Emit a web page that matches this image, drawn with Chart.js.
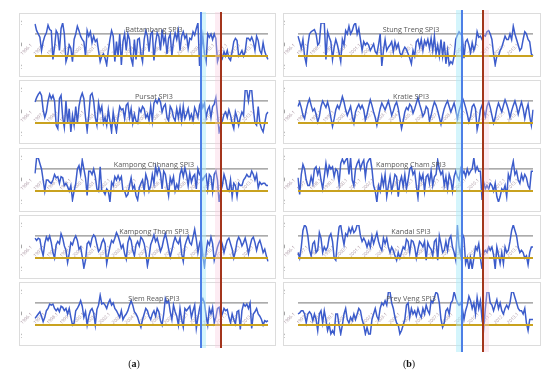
<!DOCTYPE html>
<html lang="en">
<head>
<meta charset="utf-8" />
<title>SPI3 time series</title>
<script src="https://cdn.jsdelivr.net/npm/chart.js"></script>
<style>
  body { margin: 0; background: #fff; width: 550px; height: 376px; position: relative; overflow: hidden; font-family: "Open Sans", sans-serif; }
  .panel { position: absolute; border: 1px solid #dcdcdc; background: #fff; box-sizing: border-box; }
  .panel canvas { position: absolute; left: 0; top: 0; }
  .ttl { position: absolute; font-size: 7.2px; color: #595959; white-space: nowrap; transform: translate(-50%, -50%); }
  .band { position: absolute; }
  .cap { position: absolute; font-family: "Liberation Serif", serif; font-size: 10px; color: #111; transform: translateX(-50%); }
</style>
</head>
<body>
<script>
    // time axis: 18 years, 8 samples per year
    const years = [1996, 1997, 1998, 1999, 2000, 2001, 2002, 2003, 2004, 2005, 2006, 2007, 2008, 2009, 2010, 2011, 2012, 2013];
    const stepsPerYear = 8;
    const categories = years.flatMap(y => Array.from({ length: stepsPerYear }, (_, k) => y + '.' + (k + 1)));

    const yTicks = [-2, 0, 2];
    const wetLine = 1;
    const dryLine = -1;

    const battambang = [
        1.9, 1.3, 1.0, 0.7, -0.5, 0.3, 0.8, 1.1, 1.8, 1.4, 1.3, -1.3,
        -0.2, 1.3, 1.0, -0.5, 1.5, 2.0, 1.0, -1.5, -1.0, 0.0, -0.3, -1.5,
        0.5, 1.0, 1.7, 1.3, 0.8, 0.5, 0.3, -1.0, 1.3, 0.8, 1.2, 0.2,
        0.8, 0.3, 0.5, -0.5, -1.5, -1.0, -0.8, -1.2, -1.8, -0.5, 0.5, 1.3,
        0.8, -1.5, 0.3, -1.0, 1.0, -1.8, 0.3, 1.0, -0.5, 1.0, 0.5, -1.2,
        -1.8, 0.5, -1.3, 0.5, 0.6, -0.8, -1.5, 0.5, 1.3, 0.8, -0.6, 1.0,
        1.2, -1.4, 0.2, 1.1, 0.8, -0.5, 1.4, 0.2, 0.8, -0.8, 0.6, 1.0,
        -1.0, 0.4, 1.1, 0.5, 1.3, -0.5, 0.8, 1.2, 0.6, 0.9, -0.3, 0.6,
        0.5, 1.2, 0.9, 1.5, 2.0, -1.9, -0.5, 0.8, -0.8, -1.5, 1.0, 0.7,
        1.0, 0.5, 1.0, 0.6, -1.5, -1.0, -0.8, -1.2, -0.6, -1.0, -0.5, -1.2,
        -1.4, -0.6, 0.3, 0.6, 0.4, -1.0, -0.8, -0.5, -1.0, -0.6, 0.6, 0.6,
        0.4, 0.7, 0.3, -0.5, 0.8, 0.4, -0.5, -0.8, 0.2, -0.6, -1.0, -1.3
    ];
    const pursat = [
        0.9, 1.3, 1.6, 1.8, 1.5, 0.2, -0.5, 0.0, 1.0, 1.6, 1.2, 1.5,
        1.0, -1.2, -1.5, 1.2, 1.5, -0.5, -1.4, 1.0, -1.0, 0.3, -1.8, -0.3,
        -1.2, 0.5, -1.0, 0.5, 1.3, 1.7, 1.2, -0.5, -1.7, -0.3, 1.5, 1.7,
        1.0, -0.5, -1.2, 0.8, 0.0, 0.5, -1.0, -0.5, -1.2, 0.2, -0.8, -1.8,
        0.0, -1.0, -1.8, -0.5, 0.5, 0.2, 0.3, -0.6, 0.6, 0.8, -0.5, 0.3,
        -1.0, -0.2, -0.8, -1.0, 0.3, 0.0, 0.5, 0.3, -0.5, -0.2, -0.8, 0.5,
        -0.8, 0.8, 1.1, 0.8, 1.2, 0.9, 0.0, 0.5, 0.7, -0.5, -0.8, 0.5,
        0.2, -0.5, -0.8, 0.3, -0.5, 0.4, -0.8, 0.5, -0.6, -0.2, 0.3, -0.6,
        -0.2, -0.8, 0.4, 0.0, -0.5, 0.6, 1.0, 0.4, 0.8, -0.5, 0.2, 0.5,
        -0.5, 0.5, 0.7, 1.3, -0.2, -1.8, -1.2, -0.8, -0.2, 0.0, -0.5, 0.2,
        -0.3, -1.0, -1.5, 0.0, -0.5, -1.2, -0.5, 0.0, -0.3, 2.0, 2.0, 1.0,
        2.0, 2.0, 0.3, -1.0, -1.2, 0.5, -1.0, -1.5, -1.8, -1.0, -0.2, 0.0
    ];
    const kampongChhnang = [
        0.6, 2.0, 2.0, 1.5, 1.0, 0.0, -1.0, 0.0, 0.0, -0.2, -0.3, 0.0,
        0.5, 0.2, 0.3, -0.3, 0.3, 0.2, -0.5, -0.3, -0.6, -1.0, -0.5, -1.8,
        -1.0, -0.3, 1.0, 1.3, 0.5, 1.8, 1.0, 0.2, -1.4, 0.8, 0.8, 0.5,
        1.0, 0.3, -0.8, -1.0, 1.2, -1.0, -1.0, -1.3, -0.8, -1.0, -2.0, -0.2,
        -0.5, 0.3, 0.0, 0.4, 0.0, 0.3, -1.0, -1.0, -1.5, -1.3, -0.5, 0.2,
        -0.8, -0.5, -1.4, -1.8, -0.7, -0.3, 0.0, -1.0, 0.5, 0.0, -1.0, -0.5,
        0.5, -0.3, 1.2, 0.5, 1.1, 0.6, -0.8, 0.8, 0.5, -0.5, -1.4, 0.2,
        -0.3, 0.3, -1.0, -0.4, -0.8, 0.5, 1.0, 0.3, 1.1, 0.5, -0.5, 0.6,
        -0.2, 0.3, 0.5, -0.8, 1.0, 0.5, 0.3, 0.0, 0.3, 0.5, -0.8, 0.5,
        0.3, -1.0, 0.5, 0.8, 0.0, -2.0, -1.0, -0.5, 0.5, 0.0, -0.8, -1.0,
        0.0, -1.5, -0.3, -0.5, -1.5, -0.3, -0.5, -0.5, 0.0, 0.2, 0.5, 0.3,
        0.3, 0.8, 0.5, 0.0, 0.5, -0.7, -0.2, -0.4, -0.3, -0.3, -0.5, -0.5
    ];
    const kampongThom = [
        0.8, 0.6, 0.8, 0.7, -0.2, -0.8, 0.3, 0.9, 0.6, 1.0, 0.4, -0.5,
        -1.0, 0.2, 0.5, 0.3, 1.2, 0.8, 0.1, -0.3, -1.4, -0.6, 0.4, 0.2,
        0.7, 1.0, 0.6, -0.2, 0.0, -0.9, -1.9, -1.2, 0.3, 0.5, 0.1, 0.8,
        1.1, 0.9, 0.2, -0.4, -0.2, 0.4, 0.7, 0.3, -1.5, -0.7, 0.0, 0.6,
        0.4, 0.8, 1.3, 1.0, 0.5, -0.1, 0.2, -0.6, -1.1, 0.4, 0.9, 0.6,
        -0.3, -0.8, 0.2, 0.5, 0.1, 0.9, 0.7, 0.3, -0.5, -1.7, -0.9, 0.2,
        0.6, 1.1, 0.5, 0.8, 0.2, -0.4, 0.0, 0.7, 1.2, 0.6, -0.2, -0.9,
        -0.3, 0.4, 0.9, 0.5, 0.3, 0.8, -0.6, -1.3, 0.1, 0.6, 1.0, 0.4,
        0.2, 0.9, 1.6, 0.7, -0.5, 0.3, 0.8, -0.8, -1.8, -0.4, 0.5, 0.2,
        0.9, 0.3, -1.2, -0.6, 0.0, 0.4, 0.7, 0.2, -0.5, 0.1, 0.6, 0.8,
        0.3, -0.2, -1.0, -0.4, 0.5, 0.9, 0.6, 0.1, 0.4, 0.8, 0.2, -0.6,
        0.1, 0.7, 0.9, 0.4, -0.3, 0.3, 0.6, 0.1, -0.5, -0.2, -0.8, -1.3
    ];
    const siemReap = [
        -0.4, -0.2, 0.0, 0.2, -0.2, -0.7, -0.3, 0.3, 0.5, 0.9, 0.8, 0.9,
        0.5, 0.3, 0.5, 0.2, 0.7, 0.6, 0.3, 0.5, 0.0, 0.5, -0.3, -1.0,
        -0.8, 0.3, 0.5, 0.8, 1.2, 0.7, -0.3, 0.2, -1.0, -0.2, 0.3, 0.5,
        0.1, -1.0, 0.4, 0.8, 1.7, 0.9, 1.0, 0.8, 0.5, 1.0, 1.3, 0.8,
        1.0, 0.5, 0.3, 0.0, -0.3, 0.3, -0.5, -0.2, 0.0, 0.3, 0.8, 1.2,
        0.8, 0.2, 0.0, -0.3, -0.8, -1.2, -0.5, 0.0, 0.5, 0.3, -0.2, -0.5,
        0.0, 0.3, -0.2, 0.5, 0.2, -0.6, -1.0, 0.0, 1.4, 1.0, 1.2, 0.2,
        -0.5, 0.8, 0.2, -0.2, -1.0, 0.5, -0.5, -1.2, 0.5, 0.3, 0.5, 0.7,
        -0.3, 0.3, 0.8, -1.3, -0.3, 0.5, 1.1, 1.4, 1.0, -0.2, -1.0, 0.5,
        0.0, 0.6, -0.8, -0.3, 0.5, 0.6, -0.3, 0.0, 0.5, 0.3, 0.4, -0.3,
        -0.8, 0.0, -0.5, -0.9, 0.2, 0.3, -1.4, 0.3, 0.9, 0.7, 0.9, 0.5,
        1.0, -1.3, 0.0, 0.2, 0.5, 0.0, -0.2, -0.5, -1.0, -0.6, -0.7, -0.6
    ];
    const stungTreng = [
        0.8, 0.3, -0.3, 0.5, -1.0, -1.7, 0.0, 1.0, 1.2, 1.3, 1.4, 1.0,
        0.0, 0.2, 2.0, 2.0, 2.0, -1.3, 1.2, 0.7, 0.3, -1.3, -0.2, 0.5,
        0.0, -0.7, -1.5, 0.5, 0.0, 1.3, 1.0, 1.7, 1.0, 1.3, 1.8, 2.0,
        1.0, 1.5, 0.5, -0.5, 0.3, 0.0, 0.2, 0.0, -0.5, -0.2, 0.1, -0.6,
        -0.8, 0.0, 1.0, -1.9, -0.5, 0.5, -0.5, -0.2, 0.0, 0.3, -0.6, 0.3,
        -0.3, 0.1, -0.7, -1.0, -0.5, -0.2, -0.4, -0.8, -1.2, -1.7, -0.5, -1.0,
        0.3, 0.5, -0.2, 0.5, -0.5, 0.4, 0.0, 0.5, -0.3, 0.6, -0.5, 0.8,
        -0.8, 0.0, -1.0, 0.5, -1.0, 0.3, -1.7, -0.5, -1.8, -1.5, -1.7, -1.0,
        0.5, 0.9, 1.2, 1.0, 0.8, -1.2, 0.3, 0.5, 0.0, -0.7, 0.2, -0.5,
        0.0, 1.2, 0.7, 0.8, 0.5, 0.9, 0.8, 1.2, 1.3, 1.0, 0.5, -0.8,
        -1.8, -1.0, -1.0, -0.5, -0.2, 0.3, 0.8, 0.5, 0.5, 1.0, 0.5, 1.7,
        1.0, 0.5, 0.0, -0.5, -0.3, 0.5, 1.2, 1.0, 0.5, 0.3, -0.8, -1.0
    ];
    const kratie = [
        0.5, 0.9, 0.4, -0.3, -0.6, 0.2, 0.8, 1.2, 0.6, 0.1, 0.3, -0.2,
        -0.9, -0.4, 0.5, 1.0, 0.7, 0.4, 0.9, 0.3, -0.5, -1.3, -0.6, 0.2,
        0.6, 0.3, 0.8, 1.4, 0.9, 0.2, -0.3, 0.1, 0.5, -0.4, -1.0, 0.0,
        0.4, 0.7, 0.3, 0.6, 0.2, -0.7, -0.2, 0.5, 1.1, 0.6, 0.0, -0.5,
        -1.2, -0.4, 0.3, 0.8, 0.5, 0.2, 0.6, 1.0, 0.4, -0.3, 0.1, 0.6,
        0.9, 0.3, -0.6, -1.5, -0.8, 0.0, 0.4, 0.2, 0.7, 0.5, -0.1, 0.3,
        0.8, 1.3, 0.7, 0.2, -0.4, -0.1, 0.5, 0.3, -0.8, -0.3, 0.4, 0.9,
        0.6, 0.1, -0.5, -1.1, -0.3, 0.3, 0.7, 1.0, 0.5, 0.0, 0.4, 0.8,
        0.2, -0.6, 0.1, 0.6, 1.3, 0.9, 0.4, -0.2, -0.9, -0.4, 0.5, 0.7,
        0.3, -1.6, -0.9, 0.2, 0.6, 0.1, -0.4, 0.5, 0.9, 0.4, -0.3, -1.0,
        -0.5, 0.3, 0.8, 0.4, 0.0, 0.6, 1.1, 0.7, 0.2, -0.5, 0.1, 0.6,
        1.0, 0.5, -0.2, 0.4, 0.9, 0.3, -0.6, 0.2, 0.7, -0.4, -1.2, 0.2
    ];
    const kampongCham = [
        0.2, -1.3, 0.5, 1.4, 1.0, 0.0, -0.5, -0.5, 0.3, -0.3, 1.0, 1.2,
        0.5, 1.0, 0.0, -0.8, 0.3, 1.5, 0.5, 1.3, 1.0, 1.2, 0.3, 1.0,
        0.8, -0.3, 1.5, 1.9, 1.5, 1.8, 2.0, 0.5, 2.0, 0.0, -0.5, 1.0,
        1.5, 1.8, 1.0, 1.5, 1.8, 0.3, 1.5, 1.8, 2.0, 1.0, -0.5, -1.0,
        -2.0, -0.5, -1.0, 0.3, -0.5, 0.5, -1.5, -0.5, 0.3, -1.0, -0.3, 0.5,
        0.3, -1.5, -0.2, 0.3, -0.6, 0.5, -0.8, 0.0, 1.0, 1.2, 0.5, 0.8,
        -0.5, -1.6, 0.5, 0.0, 0.5, -1.0, 0.3, 0.5, -0.3, 0.8, -0.5, 0.3,
        0.5, 1.8, 1.0, 0.5, 0.8, -0.5, 0.3, -0.8, 0.5, 0.0, -1.0, 0.3,
        0.8, 0.3, 0.0, 1.0, 0.5, 0.8, 0.3, 1.0, 0.5, 0.8, 1.0, 2.0,
        0.8, 1.2, 0.8, 0.8, -1.8, -0.2, -0.8, -0.5, -0.8, -0.3, -0.5, -1.0,
        -0.3, -1.5, -2.0, -1.5, -0.8, -1.0, -0.5, -1.5, 0.5, 0.0, 1.0, 1.7,
        0.5, 0.8, 0.0, -0.3, 0.5, 0.0, 0.5, 0.2, -0.5, -0.8, 0.8, 0.8
    ];
    const kandal = [
        -0.5, -1.0, 0.0, 1.5, 2.0, 1.8, 1.0, -0.3, -0.8, 0.3, 0.5, -0.5,
        -0.3, 1.3, 0.8, -0.5, 0.0, -0.3, 0.0, 0.9, 1.2, 0.5, -1.0, -1.2,
        0.5, 1.8, 2.0, 1.0, 0.2, 1.2, 1.0, 1.7, 1.3, 1.8, 1.3, 1.5,
        2.0, 2.0, 1.0, 0.5, 0.8, 0.5, 0.0, 0.5, 0.0, 1.0, 0.3, 0.8,
        1.3, 0.5, 0.0, -0.3, 0.8, 0.3, 0.8, 0.0, -0.5, 0.0, -0.3, -0.8,
        -1.2, -0.5, -1.0, -0.5, 0.0, -0.2, 0.7, 0.5, -0.5, 0.6, 0.5, 0.0,
        -1.0, -0.2, 0.5, 0.3, 0.0, 0.5, -1.2, 0.4, 0.0, -0.2, -0.8, 0.5,
        0.7, -1.2, 1.0, 0.3, -0.5, -0.3, 0.5, -0.3, 0.7, 1.0, 0.0, -0.5,
        -1.2, 2.0, 0.0, -0.8, 1.2, 0.8, -1.5, -1.0, -2.0, -1.0, -2.0, -1.0,
        0.0, -0.3, 0.3, -1.0, -2.0, -0.5, -0.3, -0.5, 0.0, -0.3, 0.0, -0.7,
        -2.0, 0.0, -0.7, -1.5, -0.5, -1.5, 0.0, -0.5, -0.3, 0.5, 1.5, 2.0,
        1.5, 1.0, 0.0, -0.5, -0.3, -0.5, -1.0, -0.8, -1.6, -0.5, 0.0, 0.0
    ];
    const preyVeng = [
        0.0, 0.1, 0.3, 0.3, 0.0, -0.8, 0.0, 0.2, 0.0, -0.6, 0.0, -0.5,
        -1.5, 0.0, 0.3, -0.8, 0.3, -0.5, -1.5, -1.0, -1.8, -1.5, -1.8, 0.0,
        0.0, -1.0, -1.8, -1.0, 0.0, 0.5, -0.5, -0.8, -0.3, -0.6, 0.0, -0.5,
        0.0, 0.5, 0.3, -0.5, -1.0, -1.8, -1.2, -1.8, -1.8, -0.5, 0.0, 0.5,
        -0.2, -0.5, 0.5, 1.0, 0.8, 1.2, 0.8, 2.0, 2.0, 1.0, 0.5, -0.3,
        -0.8, -1.0, -1.8, -1.5, -1.0, -0.5, 0.8, 1.0, -0.3, 0.5, 0.0, 0.3,
        -0.2, 0.5, 0.0, -0.3, 0.5, 0.0, 0.8, 0.3, 0.0, 1.2, 1.0, 1.5,
        2.0, 1.8, 1.0, -0.5, -1.2, -0.8, 0.3, 0.5, 0.0, 1.0, 1.2, 2.0,
        1.5, 1.0, 0.8, 1.0, 0.5, -0.5, 0.3, 0.8, 1.6, 1.2, 0.5, 1.0,
        0.0, 1.5, 0.5, 1.2, -0.5, -1.3, 0.5, 2.0, 2.0, 1.0, 0.8, 0.3,
        0.8, 1.3, 0.5, 1.0, 0.3, 0.0, 0.5, 0.8, 0.5, 1.0, 2.0, 2.0,
        1.5, 1.0, 0.5, 0.3, 0.3, 0.0, 0.5, -0.8, -1.5, -0.5, -0.5, -0.5
    ];

    const leftColumn = [
        ['Battambang SPI3', battambang],
        ['Pursat SPI3', pursat],
        ['Kampong Chhnang SPI3', kampongChhnang],
        ['Kampong Thom SPI3', kampongThom],
        ['Siem Reap SPI3', siemReap]
    ];
    const rightColumn = [
        ['Stung Treng SPI3', stungTreng],
        ['Kratie SPI3', kratie],
        ['Kampong Cham SPI3', kampongCham],
        ['Kandal SPI3', kandal],
        ['Prey Veng SPI3', preyVeng]
    ];

    Chart.defaults.font.family = '"Open Sans", sans-serif';

    // year labels sit on the dry line, slanted upwards
    const yearLabels = {
        id: 'yearLabels',
        beforeDatasetsDraw(chart) {
            const { ctx, scales: { x, y } } = chart;
            const y0 = y.getPixelForValue(dryLine);
            ctx.save();
            ctx.font = '4.5px "Open Sans"';
            ctx.fillStyle = 'rgba(150,125,140,0.8)';
            ctx.textAlign = 'left';
            ctx.textBaseline = 'bottom';
            categories.forEach((c, i) => {
                if (i % stepsPerYear !== 0) return;
                ctx.save();
                ctx.translate(x.getPixelForValue(i) - 12, y0);
                ctx.rotate(-Math.PI / 4);
                ctx.fillText(c, 0, 0);
                ctx.restore();
            });
            ctx.restore();
        }
    };

    function addPanel(title, values, left, top, width, padLeft, titleX) {
        const box = document.createElement('div');
        box.className = 'panel';
        box.style.left = left + 'px';
        box.style.top = top + 'px';
        box.style.width = width + 'px';
        box.style.height = '64px';
        const canvas = document.createElement('canvas');
        canvas.width = width - 2;
        canvas.height = 62;
        box.appendChild(canvas);
        const ttl = document.createElement('div');
        ttl.className = 'ttl';
        ttl.textContent = title;
        ttl.style.left = titleX + 'px';
        ttl.style.top = '15px';
        box.appendChild(ttl);
        document.body.appendChild(box);

        new Chart(canvas, {
            type: 'line',
            data: {
                labels: categories,
                datasets: [
                    { data: categories.map(() => dryLine), borderColor: '#c9a21f', borderWidth: 2 },
                    { data: values, borderColor: '#3c5ccb', borderWidth: 1.5 },
                    { data: categories.map(() => wetLine), borderColor: '#909090', borderWidth: 1.3 }
                ]
            },
            options: {
                responsive: false,
                animation: false,
                devicePixelRatio: 1,
                elements: { point: { radius: 0 }, line: { tension: 0 } },
                layout: { padding: { left: padLeft, right: 7, top: 7, bottom: 4 } },
                plugins: { legend: { display: false }, tooltip: { enabled: false } },
                scales: {
                    x: { display: false, offset: false },
                    y: {
                        min: -2, max: 2,
                        afterBuildTicks: s => { s.ticks = yTicks.map(v => ({ value: v })); },
                        afterFit: s => { s.width = 14; },
                        grid: { display: false },
                        border: { display: false },
                        ticks: { font: { size: 6.5 }, color: '#555', padding: 5 }
                    }
                }
            },
            plugins: [yearLabels]
        });
    }

    const pitch = 67.3;
    leftColumn.forEach(([t, v], r) => addPanel(t, v, 19, 13 + r * pitch, 257, 1, 134));
    rightColumn.forEach(([t, v], r) => addPanel(t, v, 283, 13 + r * pitch, 258, 0, 127));

    function band(left, top, width, height, color) {
        const d = document.createElement('div');
        d.className = 'band';
        Object.assign(d.style, { left: left + 'px', top: top + 'px', width: width + 'px', height: height + 'px', background: color });
        document.body.appendChild(d);
    }
    // event markers
    band(201, 12, 5, 336, 'rgba(170,235,250,0.5)');
    band(215, 12, 5, 336, 'rgba(250,200,220,0.35)');
    band(200, 12, 2, 336, '#4d7fe6');
    band(220, 12, 2, 336, '#a3351c');
    band(456, 10, 6, 342, 'rgba(170,235,250,0.5)');
    band(484, 10, 5, 342, 'rgba(250,200,220,0.35)');
    band(461, 10, 2, 342, '#4d7fe6');
    band(482, 10, 2, 342, '#a3351c');

    const capA = document.createElement('div');
    capA.className = 'cap';
    capA.style.left = '134px'; capA.style.top = '358px';
    capA.innerHTML = '(<b>a</b>)';
    document.body.appendChild(capA);
    const capB = document.createElement('div');
    capB.className = 'cap';
    capB.style.left = '409px'; capB.style.top = '358px';
    capB.innerHTML = '(<b>b</b>)';
    document.body.appendChild(capB);
</script>
</body>
</html>
